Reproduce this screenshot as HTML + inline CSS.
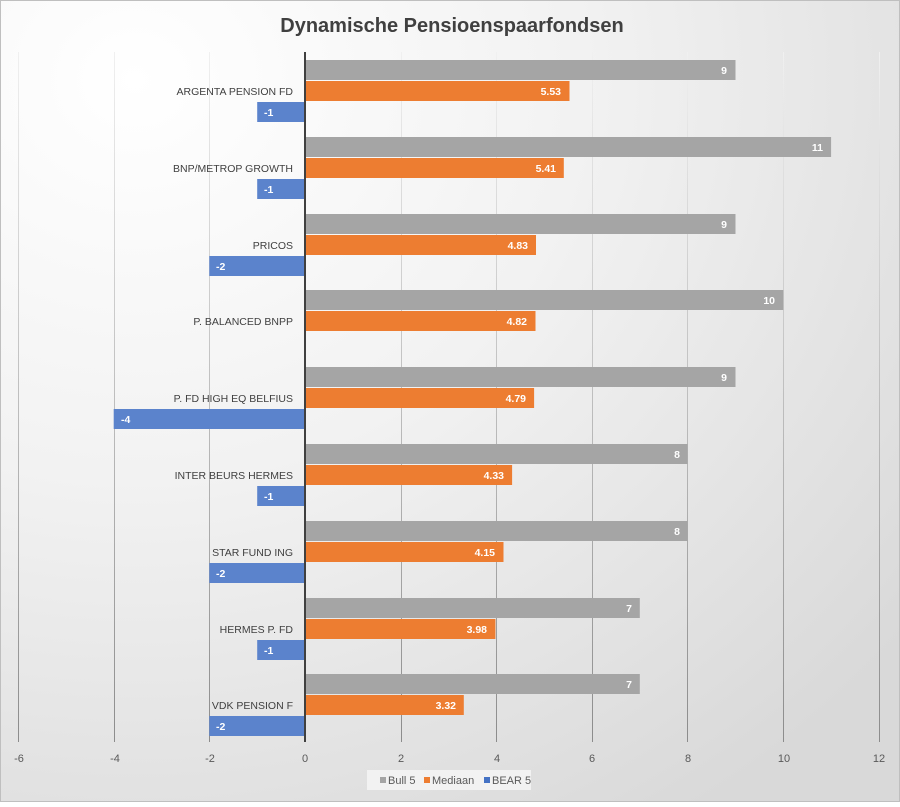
<!DOCTYPE html>
<html><head><meta charset="utf-8"><style>
html,body{margin:0;padding:0}
body{width:900px;height:802px;overflow:hidden;font-family:"Liberation Sans",sans-serif}
</style></head><body>
<svg width="900" height="802" xmlns="http://www.w3.org/2000/svg" font-family="Liberation Sans, sans-serif">
<defs>
<radialGradient id="bg" cx="0.15" cy="0.1" r="1.1">
<stop offset="0" stop-color="#ffffff"/><stop offset="0.45" stop-color="#f2f2f2"/><stop offset="1" stop-color="#d9d9d9"/>
</radialGradient>
<linearGradient id="gl" x1="0" y1="52" x2="0" y2="742" gradientUnits="userSpaceOnUse">
<stop offset="0" stop-color="#f0f0f0"/><stop offset="1" stop-color="#8c8c8c"/>
</linearGradient>
</defs>
<rect x="0" y="0" width="900" height="802" fill="url(#bg)"/>
<rect x="0.5" y="0.5" width="899" height="801" fill="none" stroke="#bfbfbf"/>
<text x="452" y="32" text-anchor="middle" font-size="20" font-weight="bold" fill="#404040">Dynamische Pensioenspaarfondsen</text>
<g stroke="url(#gl)" stroke-width="1">
<line x1="18.5" y1="52" x2="18.5" y2="742"/><line x1="114.5" y1="52" x2="114.5" y2="742"/>
<line x1="209.5" y1="52" x2="209.5" y2="742"/><line x1="401.5" y1="52" x2="401.5" y2="742"/>
<line x1="496.5" y1="52" x2="496.5" y2="742"/><line x1="592.5" y1="52" x2="592.5" y2="742"/>
<line x1="687.5" y1="52" x2="687.5" y2="742"/><line x1="783.5" y1="52" x2="783.5" y2="742"/>
<line x1="879.5" y1="52" x2="879.5" y2="742"/>
</g>
<g fill="#a5a5a5">
<rect x="305" y="60" width="430.5" height="20"/>
<rect x="305" y="137" width="526.1" height="20"/>
<rect x="305" y="214" width="430.5" height="20"/>
<rect x="305" y="290" width="478.3" height="20"/>
<rect x="305" y="367" width="430.5" height="20"/>
<rect x="305" y="444" width="382.6" height="20"/>
<rect x="305" y="521" width="382.6" height="20"/>
<rect x="305" y="598" width="334.8" height="20"/>
<rect x="305" y="674" width="334.8" height="20"/>
</g>
<g fill="#ed7d31">
<rect x="305" y="81" width="264.5" height="20"/>
<rect x="305" y="158" width="258.8" height="20"/>
<rect x="305" y="235" width="231" height="20"/>
<rect x="305" y="311" width="230.5" height="20"/>
<rect x="305" y="388" width="229.1" height="20"/>
<rect x="305" y="465" width="207.1" height="20"/>
<rect x="305" y="542" width="198.5" height="20"/>
<rect x="305" y="619" width="190.4" height="20"/>
<rect x="305" y="695" width="158.8" height="20"/>
</g>
<g fill="#5b83cc">
<rect x="257.2" y="102" width="47.8" height="20"/>
<rect x="257.2" y="179" width="47.8" height="20"/>
<rect x="209.3" y="256" width="95.7" height="20"/>
<rect x="113.7" y="409" width="191.3" height="20"/>
<rect x="257.2" y="486" width="47.8" height="20"/>
<rect x="209.3" y="563" width="95.7" height="20"/>
<rect x="257.2" y="640" width="47.8" height="20"/>
<rect x="209.3" y="716" width="95.7" height="20"/>
</g>
<g font-size="10.5" font-weight="bold" fill="#fff" text-anchor="end">
<text x="727" y="74">9</text><text x="823" y="151">11</text><text x="727" y="228">9</text>
<text x="775" y="304">10</text><text x="727" y="381">9</text><text x="680" y="458">8</text>
<text x="680" y="535">8</text><text x="632" y="612">7</text><text x="632" y="688">7</text>
<text x="561" y="95">5.53</text><text x="556" y="172">5.41</text><text x="528" y="249">4.83</text>
<text x="527" y="325">4.82</text><text x="526" y="402">4.79</text><text x="504" y="479">4.33</text>
<text x="495" y="556">4.15</text><text x="487" y="633">3.98</text><text x="456" y="709">3.32</text>
</g>
<g font-size="10.5" font-weight="bold" fill="#fff">
<text x="264" y="116">-1</text><text x="264" y="193">-1</text><text x="216" y="270">-2</text>
<text x="313" y="346" fill="#f5f5f5">0</text><text x="121" y="423">-4</text><text x="264" y="500">-1</text>
<text x="216" y="577">-2</text><text x="264" y="654">-1</text><text x="216" y="730">-2</text>
</g>
<g font-size="10.5" fill="#404040" text-anchor="end">
<text x="293" y="95">ARGENTA PENSION FD</text>
<text x="293" y="172">BNP/METROP GROWTH</text>
<text x="293" y="249">PRICOS</text>
<text x="293" y="325">P. BALANCED BNPP</text>
<text x="293" y="402">P. FD HIGH EQ BELFIUS</text>
<text x="293" y="479">INTER BEURS HERMES</text>
<text x="293" y="556">STAR FUND ING</text>
<text x="293" y="633">HERMES P. FD</text>
<text x="293" y="709">VDK PENSION F</text>
</g>
<line x1="305" y1="52" x2="305" y2="742" stroke="#404040" stroke-width="2"/>
<g font-size="11" fill="#595959" text-anchor="middle">
<text x="19" y="762">-6</text><text x="115" y="762">-4</text><text x="210" y="762">-2</text><text x="305" y="762">0</text>
<text x="401" y="762">2</text><text x="497" y="762">4</text><text x="592" y="762">6</text><text x="688" y="762">8</text>
<text x="784" y="762">10</text><text x="879" y="762">12</text>
</g>
<rect x="367" y="770" width="164" height="20" fill="#f2f2f2"/>
<g font-size="11" fill="#595959">
<rect x="380" y="777" width="6" height="6" fill="#a5a5a5"/><text x="388" y="784">Bull 5</text>
<rect x="424" y="777" width="6" height="6" fill="#ed7d31"/><text x="432" y="784">Mediaan</text>
<rect x="484" y="777" width="6" height="6" fill="#4472c4"/><text x="492" y="784">BEAR 5</text>
</g>
</svg>
</body></html>
